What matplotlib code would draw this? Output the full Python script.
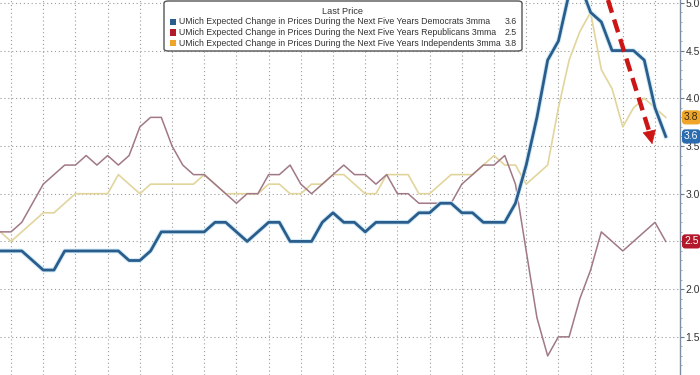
import numpy as np
import matplotlib
matplotlib.use("Agg")
import matplotlib.pyplot as plt
import matplotlib.patheffects as pe
from matplotlib.patches import FancyBboxPatch

# 3-month moving averages, monthly points (oldest -> latest)
democrats = [2.4, 2.4, 2.4, 2.3, 2.2, 2.2, 2.4, 2.4, 2.4, 2.4, 2.4, 2.4, 2.3, 2.3, 2.4,
             2.6, 2.6, 2.6, 2.6, 2.6, 2.7, 2.7, 2.6, 2.5, 2.6, 2.7, 2.7, 2.5, 2.5, 2.5,
             2.7, 2.8, 2.7, 2.7, 2.6, 2.7, 2.7, 2.7, 2.7, 2.8, 2.8, 2.9, 2.9, 2.8, 2.8,
             2.7, 2.7, 2.7, 2.9, 3.3, 3.8, 4.4, 4.6, 5.1, 5.2, 4.9, 4.8, 4.5, 4.5, 4.5,
             4.4, 3.9, 3.6]
republicans = [2.6, 2.6, 2.7, 2.9, 3.1, 3.2, 3.3, 3.3, 3.4, 3.3, 3.4, 3.3, 3.4, 3.7, 3.8,
               3.8, 3.5, 3.3, 3.2, 3.2, 3.1, 3.0, 2.9, 3.0, 3.0, 3.2, 3.2, 3.3, 3.1, 3.0,
               3.1, 3.2, 3.3, 3.2, 3.2, 3.1, 3.2, 3.0, 3.0, 2.9, 2.9, 2.9, 2.9, 3.1, 3.2,
               3.3, 3.3, 3.4, 3.1, 2.4, 1.7, 1.3, 1.5, 1.5, 1.9, 2.2, 2.6, 2.5, 2.4, 2.5,
               2.6, 2.7, 2.5]
independents = [2.6, 2.5, 2.6, 2.7, 2.8, 2.8, 2.9, 3.0, 3.0, 3.0, 3.0, 3.2, 3.1, 3.0, 3.1,
                3.1, 3.1, 3.1, 3.1, 3.2, 3.1, 3.0, 3.0, 3.0, 3.0, 3.1, 3.1, 3.0, 3.0, 3.1,
                3.1, 3.2, 3.2, 3.1, 3.0, 3.0, 3.2, 3.2, 3.2, 3.0, 3.0, 3.1, 3.2, 3.2, 3.2,
                3.3, 3.4, 3.3, 3.3, 3.1, 3.2, 3.3, 3.9, 4.4, 4.7, 4.9, 4.3, 4.1, 3.7, 3.9,
                4.0, 3.9, 3.8]

legend_names = [
    "UMich Expected Change in Prices During the Next Five Years Democrats 3mma",
    "UMich Expected Change in Prices During the Next Five Years Republicans 3mma",
    "UMich Expected Change in Prices During the Next Five Years Independents 3mma",
]
last_values = ["3.6", "2.5", "3.8"]
y_ticks = [1.5, 2.0, 2.5, 3.0, 3.5, 4.0, 4.5, 5.0]

blue = "#2b5d8c"
red_leg = "#b3192b"
orange_leg = "#eea52a"
pink_line = "#a07886"
yellow_line = "#e2d59c"

font = "Liberation Sans"
x = np.arange(len(democrats))

fig = plt.figure(figsize=(7, 3.75), dpi=100)
ax = fig.add_axes([0, 0, 680 / 700, 1])

ax.plot(x, independents, color=yellow_line, lw=1.2, zorder=3)
ax.plot(x, republicans, color=pink_line, lw=1.1, zorder=4)
ax.plot(x, democrats, color=blue, lw=2.0, zorder=5,
        path_effects=[pe.Stroke(linewidth=3.4, foreground="#cfeaf7"), pe.Normal()])

ax.set_xlim(-0.03, 63.33)
ax.set_ylim(1.10, 5.03)

ax.set_xticks(np.arange(1, 63, 3))
ax.set_yticks(y_ticks)
ax.set_yticks(np.arange(1.2, 5.05, 0.1), minor=True)
ax.grid(True, which="major", color="#9a9a9a", lw=0.8, linestyle=(0, (1, 2.5)))
ax.tick_params(axis="x", length=0, labelbottom=False)
ax.yaxis.tick_right()
ax.tick_params(axis="y", which="major", direction="out", length=3, width=0.8,
               color="#6b7a8a", labelsize=7.5, labelcolor="#333333", pad=1)
ax.tick_params(axis="y", which="minor", direction="out", length=1.5, width=0.6,
               color="#9aa4ae")
# the 2.5 label sits under the Republicans tag
ax.set_yticklabels(["" if v == 2.5 else f"{v:.1f}" for v in y_ticks], family=font)
for side in ["left", "top", "bottom"]:
    ax.spines[side].set_visible(False)
ax.spines["right"].set_color("#7d8ea0")
ax.spines["right"].set_linewidth(1.0)

# red dashed arrow
ax.plot([56.62, 60.55], [5.03, 3.62], color="#cc1616", lw=3.2,
        dashes=(3, 1.6), solid_capstyle="butt", zorder=6, clip_on=False)
ax.annotate("", xy=(60.8, 3.49), xytext=(60.5, 3.64),
            arrowprops=dict(arrowstyle="-|>,head_length=0.9,head_width=0.45",
                            color="#cc1616", lw=0.5), zorder=6)

# last value tags on the right axis
tags = [(3.8, "3.8", orange_leg, "#3a2a10"), (3.6, "3.6", "#2b6cb0", "white"),
        (2.5, "2.5", red_leg, "white")]
for yv, txt, bg, fg in tags:
    ax.text(1.006, yv, txt, transform=ax.get_yaxis_transform(), ha="left", va="center",
            fontsize=7.5, family=font, color=fg, zorder=10, clip_on=False,
            bbox=dict(boxstyle="round,pad=0.2,rounding_size=0.3", fc=bg, ec="none"))

# legend box drawn by hand
W, H = 700.0, 375.0
fs = 6.3
box = FancyBboxPatch((164 / W, 1 - 51 / H), (522 - 164) / W, 50 / H,
                     boxstyle="round,pad=0,rounding_size=0.006", transform=fig.transFigure,
                     fc="white", ec="#555555", lw=1.0, zorder=20)
fig.patches.append(box)
fig.text(343 / W, 1 - 11 / H, "Last Price", ha="center", va="center", fontsize=fs + 0.3,
         family=font, color="#333333", zorder=21)
colors = [blue, red_leg, orange_leg]
for k, (name, val, c) in enumerate(zip(legend_names, last_values, colors)):
    yy = 1 - (22 + 10.5 * k) / H
    fig.patches.append(FancyBboxPatch((170 / W, yy - 3.2 / H), 6.5 / W, 6.5 / H,
                                      boxstyle="square,pad=0", transform=fig.transFigure,
                                      fc=c, ec="none", zorder=21))
    fig.text(179 / W, yy, name, ha="left", va="center", fontsize=fs, family=font,
             color="#333333", zorder=21)
    fig.text(517 / W, yy, val, ha="right", va="center", fontsize=fs, family=font,
             color="#333333", zorder=21)

fig.savefig("out.png", dpi=100, facecolor="white")
